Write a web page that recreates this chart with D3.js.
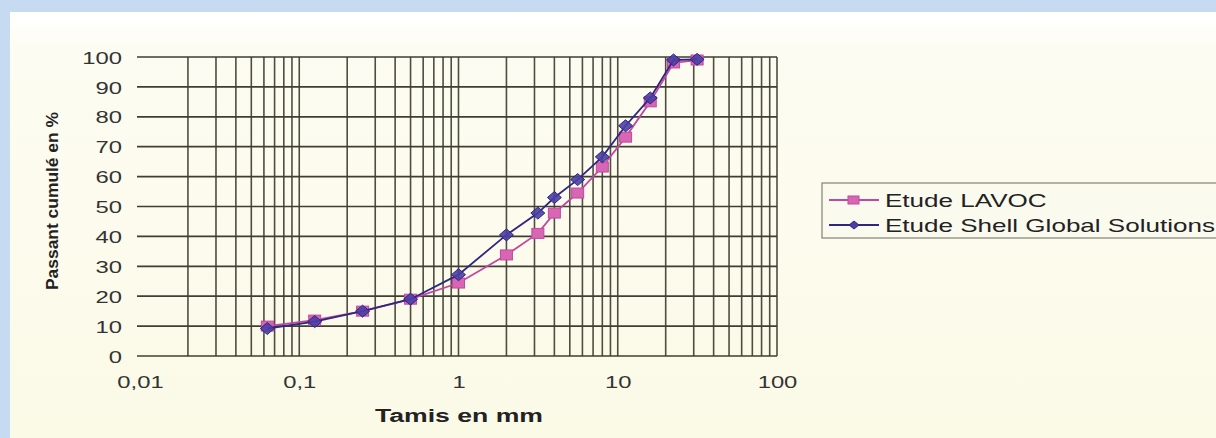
<!DOCTYPE html>
<html><head><meta charset="utf-8">
<script src="https://cdn.jsdelivr.net/npm/d3@7"></script>
<style>html,body{margin:0;padding:0;background:#c6dbf2;}svg{display:block;}</style>
</head><body>
<svg id="c" width="1216" height="438"></svg>
<script>
const sieves = [0.063, 0.125, 0.25, 0.5, 1, 2, 3.15, 4, 5.6, 8, 11.2, 16, 22.4, 31.5];
const lavoc = [10, 12, 15, 19, 24.4, 33.8, 41, 47.8, 54.5, 63.2, 73.2, 85, 98, 99];
const shell = [9.2, 11.5, 15, 19, 27.2, 40.5, 47.8, 53, 59, 66.6, 77, 86.3, 99, 99.2];
const xTicks = [0.01, 0.1, 1, 10, 100];
const xTickLabels = ["0,01", "0,1", "1", "10", "100"];
const yTicks = [0,10,20,30,40,50,60,70,80,90,100];
const seriesNames = ["Etude LAVOC", "Etude Shell Global Solutions"];

const FONT = "Liberation Sans, Arial, sans-serif";
const STRETCH = 1.4;
function stretch(sel, f) {
  sel.each(function(){ const w = this.getComputedTextLength(); this.setAttribute("textLength", w*f); this.setAttribute("lengthAdjust","spacingAndGlyphs"); });
}

const svg = d3.select("#c");
const defs = svg.append("defs");
const g1 = defs.append("linearGradient").attr("id","pg").attr("x1",0).attr("y1",0).attr("x2",0).attr("y2",1);
g1.append("stop").attr("offset","0%").attr("stop-color","#ffffff");
g1.append("stop").attr("offset","9%").attr("stop-color","#fdfcf2");
g1.append("stop").attr("offset","100%").attr("stop-color","#fbfae7");
svg.append("rect").attr("x",10).attr("y",12).attr("width",1206).attr("height",426).attr("fill","url(#pg)");

const x = d3.scaleLog().domain([0.01, 100]).range([140, 777]);
const y = d3.scaleLinear().domain([0, 100]).range([356, 57]);

// vertical grid
const vlines = [];
[0.01,0.1,1,10].forEach(d => { for (let k=2;k<=10;k++) vlines.push(d*k); });
svg.append("g").selectAll("line").data(vlines).join("line")
  .attr("x1", d=>x(d)).attr("x2", d=>x(d)).attr("y1", y(100)).attr("y2", y(0))
  .attr("stroke","#4e4e3e").attr("stroke-width",1.6);
// horizontal grid
svg.append("g").selectAll("line").data(yTicks).join("line")
  .attr("x1", 137).attr("x2", x(100)).attr("y1", d=>y(d)).attr("y2", d=>y(d))
  .attr("stroke","#3e3e32").attr("stroke-width",1.7);

// y axis labels
const yAxis = d3.axisLeft(y).tickValues(yTicks).tickSize(0).tickPadding(15);
const ya = svg.append("g").attr("transform","translate(137,0)").call(yAxis);
ya.select(".domain").remove();
ya.selectAll("text").attr("font-family",FONT).attr("font-size",17).attr("fill","#333").attr("dy","0.36em");
stretch(ya.selectAll("text"), STRETCH);

const xAxis = d3.axisBottom(x).tickValues(xTicks).tickFormat((d,i)=>xTickLabels[i]).tickSize(0).tickPadding(22);
const xa = svg.append("g").attr("transform","translate(0,356)").call(xAxis);
xa.select(".domain").remove();
xa.selectAll("text").attr("font-family",FONT).attr("font-size",17).attr("fill","#333").attr("dy","0.6em");
stretch(xa.selectAll("text"), STRETCH);

svg.append("text").attr("transform","translate(58,201) rotate(-90)").attr("text-anchor","middle")
  .attr("font-family",FONT).attr("font-size",16).attr("font-weight","bold").attr("fill","#222")
  .attr("textLength",178).attr("lengthAdjust","spacingAndGlyphs")
  .text("Passant cumulé en %");
svg.append("text").attr("x",459).attr("y",422).attr("text-anchor","middle")
  .attr("font-family",FONT).attr("font-size",18).attr("font-weight","bold").attr("fill","#222")
  .attr("textLength",168).attr("lengthAdjust","spacingAndGlyphs")
  .text("Tamis en mm");

const pink = "#c2489e", pinkFill="#d866b4", blue = "#302680", blueFill="#4a3fa4";
const line = d3.line().x(d=>x(d[0])).y(d=>y(d[1]));
const dL = sieves.map((s,i)=>[s,lavoc[i]]);
const dS = sieves.map((s,i)=>[s,shell[i]]);
const diamond = (w,h) => `M0,${-h}L${w},0L0,${h}L${-w},0Z`;

svg.append("path").datum(dL).attr("d",line).attr("fill","none").attr("stroke",pink).attr("stroke-width",1.8);
svg.append("g").selectAll("rect").data(dL).join("rect")
  .attr("x",d=>x(d[0])-6).attr("y",d=>y(d[1])-5).attr("width",12).attr("height",10)
  .attr("fill",pinkFill).attr("stroke",pink).attr("stroke-width",1);
svg.append("path").datum(dS).attr("d",line).attr("fill","none").attr("stroke",blue).attr("stroke-width",1.8);
svg.append("g").selectAll("path").data(dS).join("path")
  .attr("transform",d=>`translate(${x(d[0])},${y(d[1])})`).attr("d",diamond(7,6))
  .attr("fill",blueFill).attr("stroke",blue).attr("stroke-width",1).attr("fill-opacity",0.9);

// legend
const lg = svg.append("g");
lg.append("rect").attr("x",822).attr("y",183).attr("width",400).attr("height",55)
  .attr("fill","#fbfaee").attr("stroke","#8a8a80").attr("stroke-width",1.3);
const ly = [200, 225];
seriesNames.forEach((n,i)=>{
  const c = i===0?pink:blue;
  lg.append("line").attr("x1",829).attr("x2",879).attr("y1",ly[i]).attr("y2",ly[i]).attr("stroke",c).attr("stroke-width",1.8);
  if (i===0) lg.append("rect").attr("x",848).attr("y",ly[i]-4).attr("width",11).attr("height",8).attr("fill",pinkFill).attr("stroke",pink);
  else lg.append("path").attr("transform",`translate(854,${ly[i]})`).attr("d",diamond(5,4)).attr("fill",blueFill).attr("stroke",blue);
  const t = lg.append("text").attr("x",885).attr("y",ly[i]+7).attr("font-family",FONT)
    .attr("font-size",19).attr("fill","#222").text(n);
  stretch(t, 1.37);
});
</script>
</body></html>
